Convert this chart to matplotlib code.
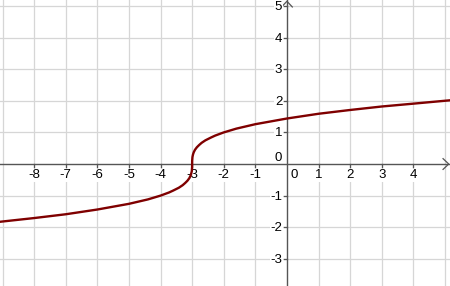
import matplotlib
matplotlib.use("Agg")
import matplotlib.pyplot as plt
from matplotlib.transforms import offset_copy

# curve points
curve_x = [-9.1, -8.0, -7.0, -6.0, -5.0, -4.4, -4.0, -3.73, -3.6, -3.42, -3.3, -3.22, -3.15, -3.09,
           -3.05, -3.027, -3.01, -3.001, -3.0, -2.999, -2.99, -2.973, -2.95, -2.91, -2.85,
           -2.78, -2.7, -2.58, -2.4, -2.27, -2.0, -1.6, -1.0, 0.0, 1.0, 2.0, 3.0, 4.0, 5.2]
curve_y = [-1.83, -1.71, -1.59, -1.44, -1.26, -1.12, -1.0, -0.9, -0.84, -0.75, -0.67, -0.6, -0.53, -0.45,
           -0.37, -0.3, -0.22, -0.1, 0.0, 0.1, 0.22, 0.3, 0.37, 0.45, 0.53,
           0.6, 0.67, 0.75, 0.84, 0.9, 1.0, 1.12, 1.26, 1.44, 1.59, 1.71, 1.82, 1.91, 2.02]

x_ticks = [-8, -7, -6, -5, -4, -3, -2, -1, 1, 2, 3, 4]
y_ticks = [-3, -2, -1, 1, 2, 3, 4, 5]
x_grid = list(range(-9, 6))
y_grid = list(range(-3, 6))

XMIN, XMAX = -9.08, 5.16
YMIN, YMAX = -3.86, 5.19

fig = plt.figure(figsize=(4.5, 2.86), dpi=100)
ax = fig.add_axes([0, 0, 1, 1])
ax.set_xlim(XMIN, XMAX)
ax.set_ylim(YMIN, YMAX)
ax.axis("off")

grid_c = "#d6d6d6"
axis_c = "#555555"
for gx in x_grid:
    if gx != 0:
        ax.axvline(gx, color=grid_c, lw=0.9, zorder=1)
for gy in y_grid:
    if gy != 0:
        ax.axhline(gy, color=grid_c, lw=0.9, zorder=1)

ax.axhline(0, color=axis_c, lw=1.0, zorder=3)
ax.axvline(0, color=axis_c, lw=1.0, zorder=3)

# tick marks
for t in x_ticks:
    ax.plot([t, t], [0, -0.1], color=axis_c, lw=0.9, zorder=3)
for t in y_ticks:
    ax.plot([-0.1, 0], [t, t], color=axis_c, lw=0.9, zorder=3)

# arrow heads
ax.plot([XMAX - 0.22, XMAX - 0.04, XMAX - 0.22], [0.17, 0, -0.17], color=axis_c, lw=0.9, zorder=3, clip_on=False)
ax.plot([-0.17, 0, 0.17], [YMAX - 0.22, YMAX - 0.04, YMAX - 0.22], color=axis_c, lw=0.9, zorder=3, clip_on=False)

font = dict(family="Liberation Sans", fontsize=9.5, color="black")
bb = dict(facecolor="white", edgecolor="none", pad=0.3)
for t in x_ticks:
    ax.text(t, -0.36, str(t).replace("\u2212", "-"), ha="center", va="center", bbox=bb, zorder=4, **font)
for t in y_ticks:
    ax.text(-0.15, t - 0.03, str(t), ha="right", va="center", bbox=bb, zorder=4, **font)
ax.text(-0.15, 0.19, "0", ha="right", va="center", zorder=4, **font)
ax.text(0.22, -0.36, "0", ha="center", va="center", zorder=4, **font)

ax.plot(curve_x, curve_y, color="#7f0000", lw=1.7, zorder=5, solid_capstyle="round", solid_joinstyle="round")

fig.savefig("out.png", dpi=100)
